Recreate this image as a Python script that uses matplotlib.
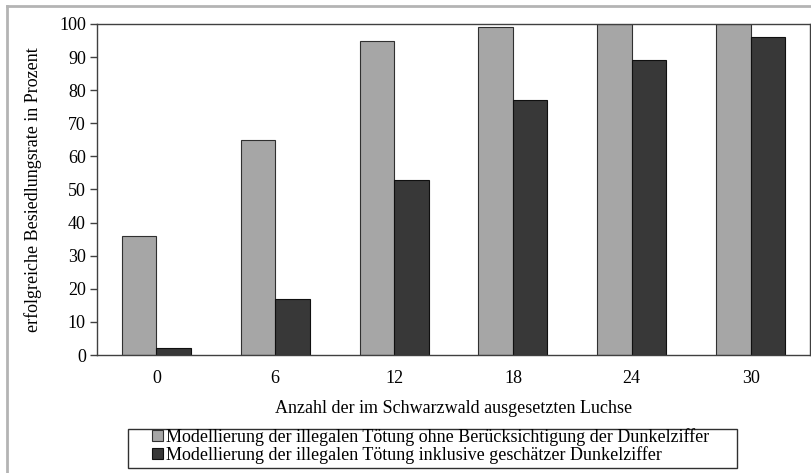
import matplotlib
matplotlib.use("Agg")
import matplotlib.pyplot as plt
from matplotlib.lines import Line2D
from matplotlib.patches import Rectangle
import numpy as np

categories = ["0", "6", "12", "18", "24", "30"]
ohne_dunkelziffer = [36, 65, 95, 99, 100, 100]
inkl_dunkelziffer = [2, 17, 53, 77, 89, 96]
yticks = [0, 10, 20, 30, 40, 50, 60, 70, 80, 90, 100]
label1 = "Modellierung der illegalen Tötung ohne Berücksichtigung der Dunkelziffer"
label2 = "Modellierung der illegalen Tötung inklusive geschätzer Dunkelziffer"

plt.rcParams['font.family'] = ['Liberation Serif', 'DejaVu Serif']

W, H = 812, 473
fig = plt.figure(figsize=(W/100, H/100), dpi=100)
ax = fig.add_axes([97/W, 1-355/H, (810-97)/W, (355-24)/H])

x = np.arange(len(categories))
w = 0.29
ax.bar(x - w/2, ohne_dunkelziffer, w, color="#a6a6a6", edgecolor="#303030", linewidth=0.8, label=label1)
ax.bar(x + w/2, inkl_dunkelziffer, w, color="#383838", edgecolor="#101010", linewidth=0.8, label=label2)

ax.set_xlim(-0.5, len(categories) - 0.5)
ax.set_ylim(0, 100)
ax.set_yticks(yticks)
ax.set_xticks(x)
ax.set_xticklabels(categories)
ax.tick_params(axis='x', length=0, pad=11, labelsize=13)
ax.tick_params(axis='y', length=5, width=1, color="#404040", labelsize=13, pad=3)
for s in ax.spines.values():
    s.set_color("#404040")
    s.set_linewidth(1.0)

ax.set_xlabel("Anzahl der im Schwarzwald ausgesetzten Luchse", fontsize=13, labelpad=9)
ax.set_ylabel("erfolgreiche Besiedlungsrate in Prozent", fontsize=13, labelpad=12)

# legend box
fig.add_artist(Rectangle((128/W, 1-468/H), (737-128)/W, (468-429)/H, transform=fig.transFigure,
                         fill=False, edgecolor="#303030", linewidth=1.0))
leg = fig.legend(loc="upper left", bbox_to_anchor=(152/W, 1-428/H), ncol=1,
                 fontsize=13, frameon=False,
                 handlelength=0.6, handleheight=0.6, handletextpad=0.15,
                 labelspacing=0.0, borderpad=0.0, borderaxespad=0)

# outer light frame (left and top)
fig.add_artist(Line2D([7/W, 7/W], [0, 1-6/H], color="#b4b4b4", linewidth=2.0, transform=fig.transFigure))
fig.add_artist(Line2D([7/W, 1], [1-6/H, 1-6/H], color="#b4b4b4", linewidth=2.0, transform=fig.transFigure))

fig.savefig("out.png", dpi=100)
